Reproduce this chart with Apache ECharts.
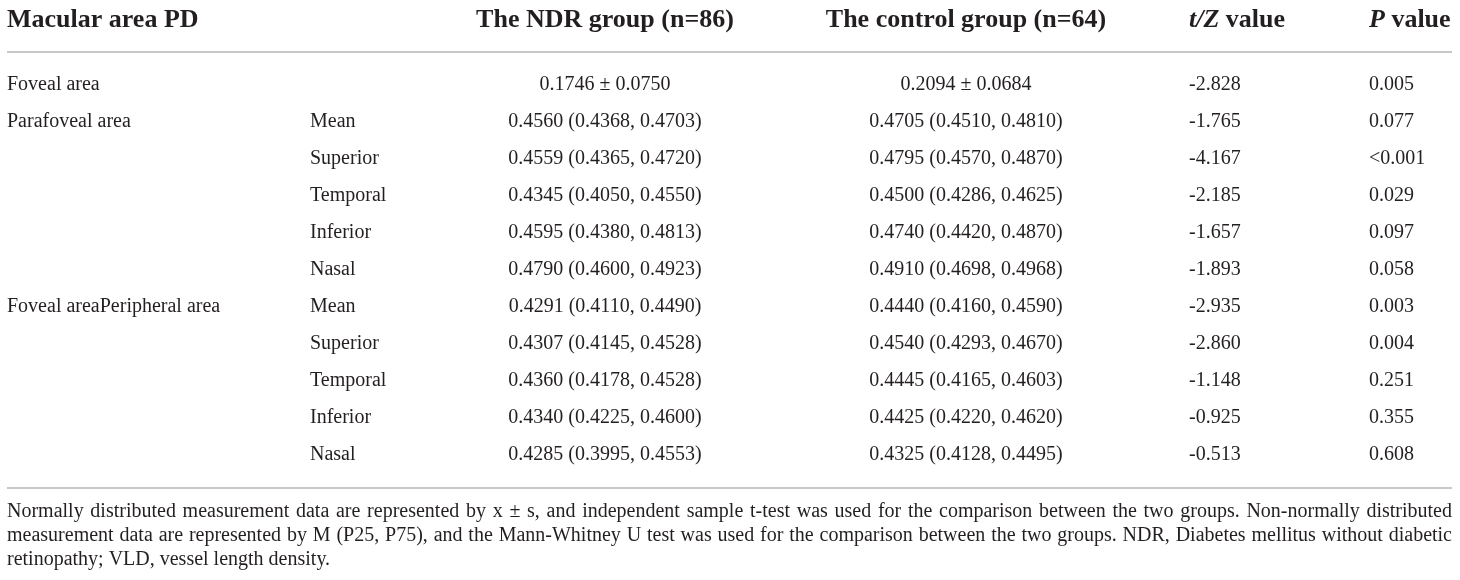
<!DOCTYPE html>
<html>
<head>
<meta charset="utf-8">
<title>Macular area PD</title>
<script src="https://cdn.jsdelivr.net/npm/echarts@6/dist/echarts.min.js"></script>
<style>
  html, body { margin: 0; padding: 0; background: #fff; }
  #table { width: 1460px; height: 580px; }
</style>
</head>
<body>
<div id="table"></div>
<script>
// table content, row by row
const headers = ['Macular area PD', 'The NDR group (n=86)', 'The control group (n=64)', '{i|t/Z} value', '{i|P} value'];
const regions = ['Foveal area', 'Parafoveal area', '', '', '', '', 'Foveal areaPeripheral area', '', '', '', ''];
const subAreas = ['', 'Mean', 'Superior', 'Temporal', 'Inferior', 'Nasal', 'Mean', 'Superior', 'Temporal', 'Inferior', 'Nasal'];
const ndrValues = [
  '0.1746 ± 0.0750',
  '0.4560 (0.4368, 0.4703)',
  '0.4559 (0.4365, 0.4720)',
  '0.4345 (0.4050, 0.4550)',
  '0.4595 (0.4380, 0.4813)',
  '0.4790 (0.4600, 0.4923)',
  '0.4291 (0.4110, 0.4490)',
  '0.4307 (0.4145, 0.4528)',
  '0.4360 (0.4178, 0.4528)',
  '0.4340 (0.4225, 0.4600)',
  '0.4285 (0.3995, 0.4553)'
];
const controlValues = [
  '0.2094 ± 0.0684',
  '0.4705 (0.4510, 0.4810)',
  '0.4795 (0.4570, 0.4870)',
  '0.4500 (0.4286, 0.4625)',
  '0.4740 (0.4420, 0.4870)',
  '0.4910 (0.4698, 0.4968)',
  '0.4440 (0.4160, 0.4590)',
  '0.4540 (0.4293, 0.4670)',
  '0.4445 (0.4165, 0.4603)',
  '0.4425 (0.4220, 0.4620)',
  '0.4325 (0.4128, 0.4495)'
];
const tzValues = ['-2.828', '-1.765', '-4.167', '-2.185', '-1.657', '-1.893', '-2.935', '-2.860', '-1.148', '-0.925', '-0.513'];
const pValues = ['0.005', '0.077', '<0.001', '0.029', '0.097', '0.058', '0.003', '0.004', '0.251', '0.355', '0.608'];
const footnoteLines = [
  'Normally distributed measurement data are represented by x ± s, and independent sample t-test was used for the comparison between the two groups. Non-normally distributed',
  'measurement data are represented by M (P25, P75), and the Mann-Whitney U test was used for the comparison between the two groups. NDR, Diabetes mellitus without diabetic',
  'retinopathy; VLD, vessel length density.'
];

// layout
const FONT = '"Liberation Serif", "DejaVu Serif", serif';
const INK = '#231f20';
const RULE = '#c8c8c8';
const colX = [7, 310, 605, 966, 1189, 1369];
const colAlign = ['left', 'left', 'center', 'center', 'left', 'left'];
const columns = [regions, subAreas, ndrValues, controlValues, tzValues, pValues];
const rowLabels = ndrValues.map((_, i) => String(i));

const cells = [];
columns.forEach((col, c) => {
  col.forEach((text, r) => {
    if (text) cells.push([c, r]);
  });
});

const chart = echarts.init(document.getElementById('table'), null, { renderer: 'canvas' });

// justified footnote: split each full line into words spread across the table width
const measure = document.createElement('canvas').getContext('2d');
measure.font = '20px ' + FONT;
const noteLeft = 7;
const noteRight = 1452;
const noteTop = 512;
const noteStep = 24;
const noteGraphics = [];
footnoteLines.forEach((line, i) => {
  const y = noteTop + i * noteStep;
  const last = i === footnoteLines.length - 1;
  if (last) {
    noteGraphics.push({
      type: 'text', x: noteLeft, y,
      style: { text: line, font: '20px ' + FONT, fill: INK, align: 'left', verticalAlign: 'middle' }
    });
    return;
  }
  const words = line.split(' ');
  const widths = words.map((w) => measure.measureText(w).width);
  const total = widths.reduce((a, b) => a + b, 0);
  const gap = (noteRight - noteLeft - total) / (words.length - 1);
  let x = noteLeft;
  words.forEach((w, k) => {
    noteGraphics.push({
      type: 'text', x, y,
      style: { text: w, font: '20px ' + FONT, fill: INK, align: 'left', verticalAlign: 'middle' }
    });
    x += widths[k] + gap;
  });
});

const headerX = [7, 605, 966, 1189, 1369];
const headerAlign = ['left', 'center', 'center', 'left', 'left'];
const headerGraphics = headers.map((h, i) => ({
  type: 'text',
  x: headerX[i],
  y: 20,
  style: {
    text: h,
    fontFamily: FONT,
    fontSize: 26,
    fontWeight: 'bold',
    fill: INK,
    align: headerAlign[i],
    verticalAlign: 'middle',
    rich: {
      i: { fontFamily: FONT, fontSize: 26, fontWeight: 'bold', fontStyle: 'italic', fill: INK }
    }
  }
}));

chart.setOption({
  animation: false,
  grid: { left: 0, right: 0, top: 66.5, bottom: 106.5 },
  xAxis: { type: 'value', min: 0, max: 1460, show: false },
  yAxis: { type: 'category', data: rowLabels, inverse: true, show: false },
  graphic: [
    { type: 'line', shape: { x1: 7, y1: 52, x2: 1452, y2: 52 }, style: { stroke: RULE, lineWidth: 2 } },
    { type: 'line', shape: { x1: 7, y1: 488, x2: 1452, y2: 488 }, style: { stroke: RULE, lineWidth: 2 } },
    ...headerGraphics,
    ...noteGraphics
  ],
  series: [
    {
      type: 'custom',
      data: cells,
      encode: { x: 0, y: 1 },
      silent: true,
      renderItem: (params, api) => {
        const c = api.value(0);
        const r = api.value(1);
        const pt = api.coord([colX[c], r]);
        return {
          type: 'text',
          x: pt[0],
          y: pt[1],
          style: {
            text: columns[c][r],
            fontFamily: FONT,
            fontSize: 20,
            fill: INK,
            align: colAlign[c],
            verticalAlign: 'middle'
          }
        };
      }
    }
  ]
});
</script>
</body>
</html>
